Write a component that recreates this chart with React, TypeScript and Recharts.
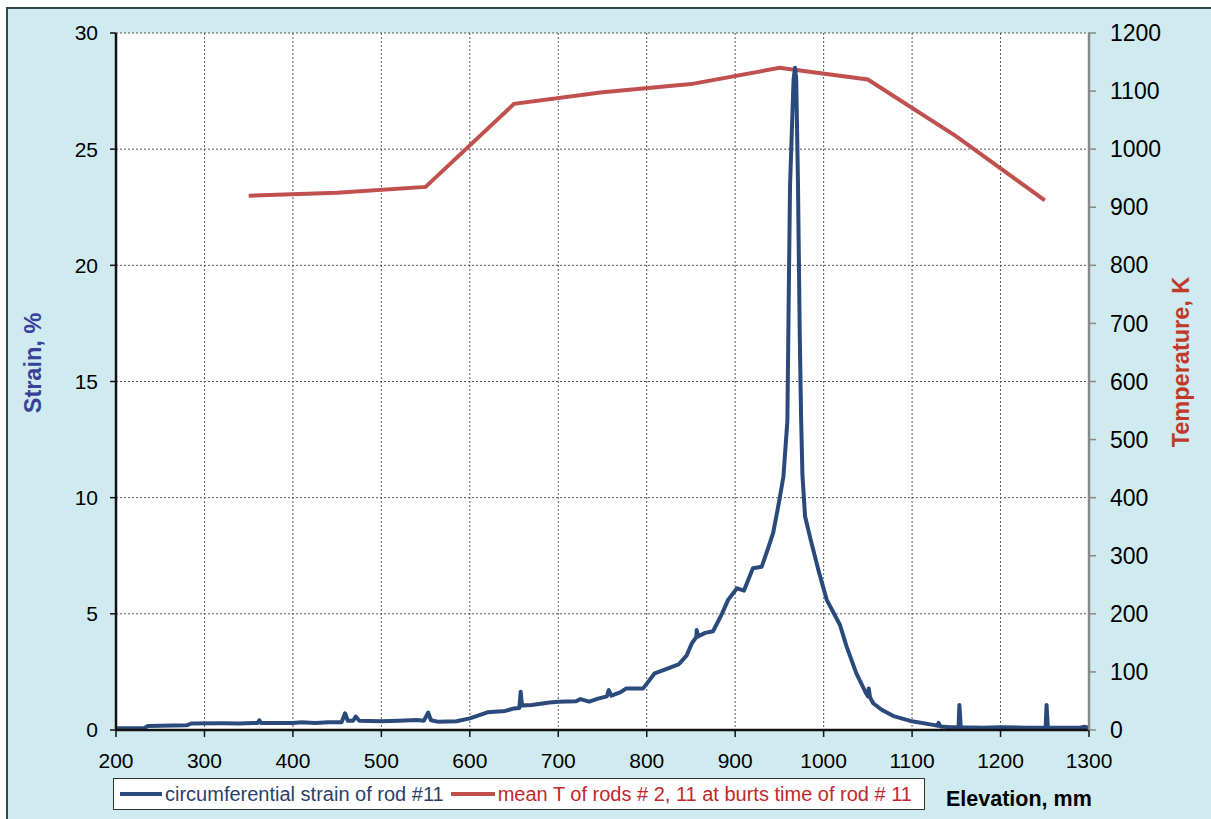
import React from "react";
import { LineChart, Line, XAxis, YAxis, CartesianGrid } from "recharts";

// circumferential strain of rod #11 (elevation mm -> strain %)
const elevation = [
  200, 232, 236, 280, 285, 320, 340, 355, 360, 362, 364, 400, 410, 425, 440, 455, 459, 462, 468, 471,
  475, 500, 520, 540, 548, 553, 556, 565, 585, 600, 620, 640, 650, 656, 657.5, 659, 670, 690, 700, 720,
  725, 735, 745, 755, 757, 760, 770, 777, 796, 809, 822, 836, 845, 851, 856, 856.5, 858, 866, 875, 885,
  892, 902, 910, 920, 930, 937, 943, 950, 954.5, 959, 960.5, 962, 966, 967.7, 969, 971, 973, 974.5, 976, 979,
  984.6, 994, 1003.5, 1018.5, 1026, 1037, 1048, 1050, 1051, 1052.5, 1056, 1066, 1079, 1098, 1124, 1129, 1130, 1132, 1143, 1152.5,
  1153.5, 1155, 1180, 1200, 1230, 1251, 1252, 1253.5, 1290, 1295, 1300,
];
const strain = [
  0.08, 0.09, 0.17, 0.2, 0.28, 0.29, 0.28, 0.3, 0.3, 0.42, 0.3, 0.3, 0.33, 0.3, 0.33, 0.33, 0.72, 0.4, 0.4, 0.58,
  0.4, 0.38, 0.4, 0.43, 0.4, 0.75, 0.42, 0.35, 0.38, 0.5, 0.76, 0.82, 0.93, 0.95, 1.65, 1.05, 1.08, 1.18, 1.22, 1.24,
  1.33, 1.22, 1.35, 1.45, 1.72, 1.48, 1.62, 1.79, 1.79, 2.44, 2.62, 2.82, 3.2, 3.73, 4.0, 4.3, 4.02, 4.18, 4.25, 5.0,
  5.6, 6.1, 6.0, 6.96, 7.03, 7.8, 8.5, 9.9, 10.9, 13.3, 18.5, 23.4, 28.0, 28.5, 28.0, 23.5, 17.0, 13.5, 11.0, 9.2,
  8.3, 6.9, 5.6, 4.52, 3.59, 2.44, 1.58, 1.45, 1.79, 1.4, 1.15, 0.86, 0.6, 0.39, 0.22, 0.18, 0.31, 0.15, 0.12, 0.12,
  1.08, 0.12, 0.1, 0.12, 0.1, 0.1, 1.08, 0.1, 0.1, 0.14, 0.1,
];

// mean T of rods # 2, 11 at burst time of rod # 11
const tempElevation = [350, 450, 550, 650, 750, 850, 950, 1050, 1150, 1250];
const tempK = [920, 925, 935, 1078, 1098, 1112, 1140, 1120, 1022, 912];

const xTicks = [200, 300, 400, 500, 600, 700, 800, 900, 1000, 1100, 1200, 1300];
const strainTicks = [0, 5, 10, 15, 20, 25, 30];
const tempTicks = [0, 100, 200, 300, 400, 500, 600, 700, 800, 900, 1000, 1100, 1200];

const strainData = elevation.map((x, i) => ({ x, strain: strain[i] }));
const tempData = tempElevation.map((x, i) => ({ x, temp: tempK[i] }));

const FONT = "'Liberation Sans', Arial, sans-serif";
const BLUE = "#2a4a7c";
const RED = "#c0504d";

export default function App() {
  return (
    <div style={{ position: "fixed", left: 0, top: 0, width: 1211, height: 819, overflow: "hidden", background: "#fff" }}>
      <div
        style={{
          position: "absolute", left: 6, top: 7, width: 1300, height: 900,
          border: "2px solid #34484a", background: "#cfebef",
        }}
      />
      <div style={{ position: "absolute", left: 0, top: 0 }}>
        <LineChart width={1211} height={819} margin={{ top: 33, right: 42, bottom: 39, left: 56 }}>
          <CartesianGrid yAxisId="s" stroke="#555" strokeDasharray="2 2" fill="#fff" />
          <XAxis
            type="number" dataKey="x" domain={[200, 1300]} ticks={xTicks} height={50}
            axisLine={{ stroke: "#111", strokeWidth: 2.5 }} tickLine={{ stroke: "#111", strokeWidth: 1.5 }}
            tickSize={7} tickMargin={16}
            tick={{ fill: "#000", fontSize: 21, fontFamily: FONT }}
            label={{
              value: "Elevation, mm",
              content: () => (
                <text x={946} y={806} fontFamily={FONT} fontSize={21.5} fontWeight="bold" fill="#000">Elevation, mm</text>
              ),
            }}
          />
          <YAxis
            yAxisId="s" domain={[0, 30]} ticks={strainTicks} width={60}
            axisLine={{ stroke: "#111", strokeWidth: 2.5 }} tickLine={{ stroke: "#111", strokeWidth: 1.5 }}
            tickSize={6} tickMargin={12}
            tick={{ fill: "#000", fontSize: 21, fontFamily: FONT }}
            label={{
              value: "Strain, %",
              content: () => (
                <text x={41} y={363} transform="rotate(-90 41 363)" textAnchor="middle" fontFamily={FONT} fontSize={23.5} fontWeight="bold" fill="#3a3f9a">Strain, %</text>
              ),
            }}
          />
          <YAxis
            yAxisId="t" orientation="right" domain={[0, 1200]} ticks={tempTicks} width={80}
            axisLine={{ stroke: "#888", strokeWidth: 2.5 }} tickLine={{ stroke: "#888", strokeWidth: 1.5 }}
            tickSize={7} tickMargin={14}
            tick={{ fill: "#000", fontSize: 23, fontFamily: FONT }}
            label={{
              value: "Temperature, K",
              content: () => (
                <text x={1189} y={362} transform="rotate(-90 1189 362)" textAnchor="middle" fontFamily={FONT} fontSize={23.5} fontWeight="bold" fill="#c0392b">Temperature, K</text>
              ),
            }}
          />
          <Line
            data={tempData} dataKey="temp" yAxisId="t" type="linear" stroke={RED} strokeWidth={4}
            dot={false} isAnimationActive={false}
          />
          <Line
            data={strainData} dataKey="strain" yAxisId="s" type="linear" stroke={BLUE} strokeWidth={4}
            strokeLinejoin="round" dot={false} isAnimationActive={false}
          />
        </LineChart>
      </div>
      <div
        style={{
          position: "absolute", left: 113, top: 778, width: 810, height: 30,
          border: "1px solid #333", background: "#fff", display: "flex", alignItems: "center",
          fontFamily: FONT, fontSize: 20, whiteSpace: "nowrap", overflow: "hidden",
        }}
      >
        <span style={{ display: "inline-block", width: 42, height: 4, background: BLUE, marginLeft: 6, marginRight: 3 }} />
        <span style={{ color: "#2c3f6b" }}>circumferential strain of rod #11</span>
        <span style={{ display: "inline-block", width: 44, height: 4, background: RED, marginLeft: 7, marginRight: 3 }} />
        <span style={{ color: "#c0282d" }}>mean T of rods # 2, 11 at burts time of rod # 11</span>
      </div>
    </div>
  );
}
